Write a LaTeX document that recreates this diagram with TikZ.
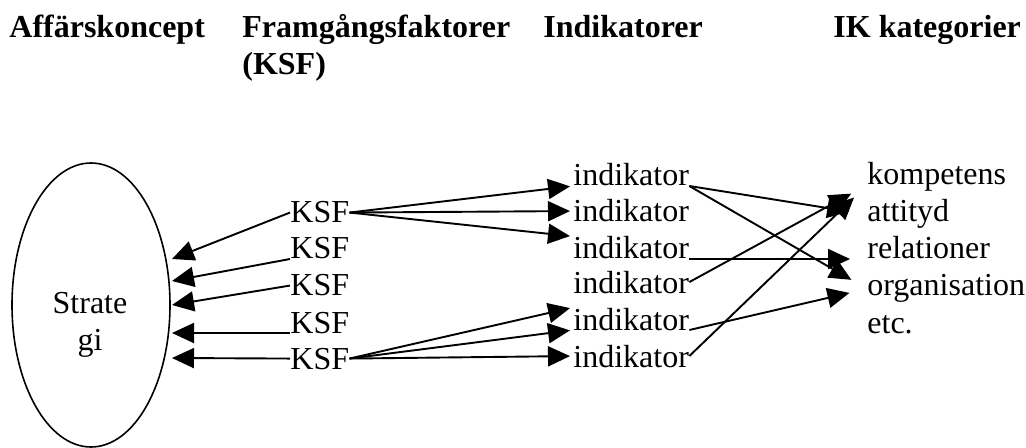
\documentclass[tikz,border=0pt]{standalone}
\usepackage{fontspec}
\setmainfont{Liberation Serif}
\usetikzlibrary{arrows.meta,shapes.geometric}

\tikzset{
  body/.style={font=\fontsize{16}{18.3}\selectfont, inner sep=0pt, anchor=base west},
  head/.style={font=\fontsize{16}{18.3}\selectfont\bfseries, inner sep=0pt, anchor=base west},
  link/.style={line width=0.95pt, -{Triangle[length=11pt,width=10pt]}},
}

\begin{document}
\begin{tikzpicture}[x=0.5pt, y=-0.5pt]
    \useasboundingbox (0,0) rectangle (1026,448);

    % column headings
    \node[head] (hAff)  at (9,38)   {Affärskoncept};
    \node[head] (hKsf)  at (242,38) {Framgångsfaktorer};
    \node[head] (hKsfb) at (242,75) {(KSF)};
    \node[head] (hInd)  at (543,38) {Indikatorer};
    \node[head] (hIk)   at (833,38) {IK kategorier};

    % strategy
    \node[draw, ellipse, line width=0.8pt, minimum width=79pt, minimum height=142pt, inner sep=0pt] (strat) at (91,305) {};
    \node[body, anchor=center, align=center] (stext) at (90,325) {Strate\\gi};

    \foreach \i/\y in {1/223,2/259,3/296,4/333,5/369}
      \node[body] (k\i) at (290,\y) {KSF};
    \foreach \i/\y in {1/186,2/222,3/259,4/293,5/330,6/367}
      \node[body] (i\i) at (573,\y) {indikator};
    \foreach \i/\txt in {1/kompetens,2/attityd,3/relationer,4/organisation,5/etc.}
      \node[body] (c\i) at (867,{148+37*\i}) {\txt};

    % arrow ends on the ellipse
    \coordinate (e1) at (172,259);
    \coordinate (e2) at (172,281);
    \coordinate (e3) at (172,305);
    \coordinate (e4) at (172,333);
    \coordinate (e5) at (172,358);

    \draw[link] (k1.west) -- (e1);
    \draw[link] (k2.base west) -- (e2);
    \draw[link] (k3.west) -- (e3);
    \draw[link] (k4.base west) -- (e4);
    \draw[link] (k5.west) -- (e5);

    \draw[link, shorten >=1.5pt] (k1.east) -- (i1.base west);
    \draw[link, shorten >=1.5pt] (k1.east) -- (i2.west);
    \draw[link, shorten >=1.5pt] (k1.east) -- (i3.north west);
    \draw[link, shorten >=1.5pt] (k5.east) -- (i5.north west);
    \draw[link, shorten >=1.5pt] (k5.east) -- (i5.base west);
    \draw[link, shorten >=1.5pt] (k5.east) -- (i6.west);

    \draw[link, shorten >=9pt] (i1.base east) -- (c2.west);
    \draw[link, shorten >=9pt] (i1.base east) -- (c4.west);
    \draw[link, shorten >=8.5pt] (i3.base east) -- (c3.base west);
    \draw[link, shorten >=9pt] (i4.east) -- (c1.base west);
    \draw[link, shorten >=9pt] (i5.base east) -- (c4.west);
    \draw[link, shorten >=9pt] (i6.east) -- (c1.base west);
\end{tikzpicture}
\end{document}
